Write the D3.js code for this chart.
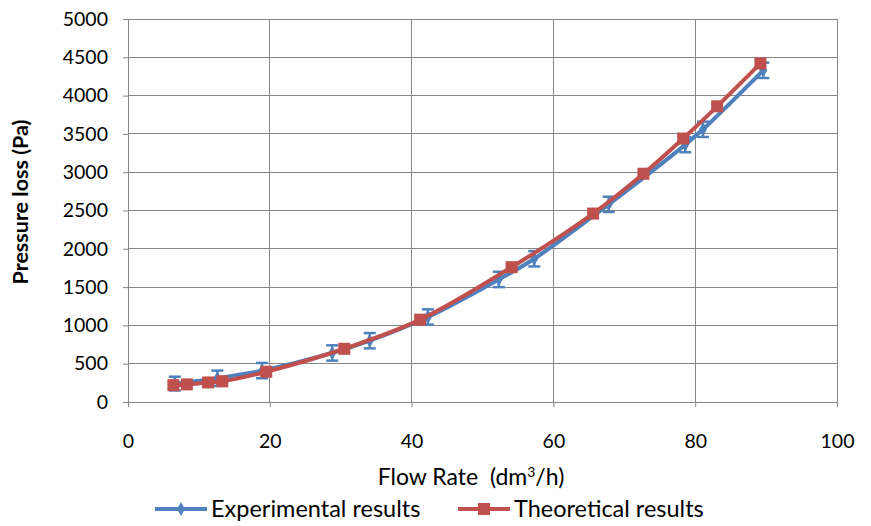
<!DOCTYPE html>
<html><head><meta charset="utf-8">
<script src="https://cdn.jsdelivr.net/npm/d3@7"></script>
<style>body{margin:0;background:#fff}svg{display:block}text{font-family:Lato,"Open Sans",sans-serif;fill:#000}</style>
</head><body><svg id="c" width="871" height="526"></svg>
<script>
const expX = [6.6, 12.6, 18.9, 28.8, 34.1, 42.3, 52.3, 57.3, 67.8, 78.6, 81.1, 89.6];
const expY = [240, 310, 410, 640, 800, 1110, 1600, 1870, 2580, 3360, 3560, 4330];
const expErr = [90, 100, 100, 100, 100, 100, 100, 100, 100, 100, 100, 100];
const theoX = [6.4, 8.3, 11.3, 13.3, 19.5, 30.5, 41.2, 54.1, 65.6, 72.7, 78.3, 83.1, 89.2];
const theoY = [220, 230, 255, 270, 395, 695, 1075, 1760, 2460, 2980, 3440, 3860, 4420];
const xTicks = [0, 20, 40, 60, 80, 100];
const yTicks = [0, 500, 1000, 1500, 2000, 2500, 3000, 3500, 4000, 4500, 5000];
const seriesNames = ["Experimental results", "Theoretical results"];
const colors = ["#4F81BD", "#C0504D"];

const svg = d3.select("#c");
const x = d3.scaleLinear().domain([0, 100]).range([128, 837]);
const y = d3.scaleLinear().domain([0, 5000]).range([402, 19]);

// gridlines
svg.append("g").selectAll("line.h").data(yTicks).join("line")
  .attr("x1", x(0)).attr("x2", x(100)).attr("y1", d => y(d)).attr("y2", d => y(d))
  .attr("stroke", "#868686").attr("stroke-width", 1).attr("shape-rendering", "crispEdges");
svg.append("g").selectAll("line.v").data(xTicks).join("line")
  .attr("x1", d => x(d)).attr("x2", d => x(d)).attr("y1", y(0)).attr("y2", y(5000))
  .attr("stroke", "#868686").attr("stroke-width", 1).attr("shape-rendering", "crispEdges");

// y axis
const ya = svg.append("g").attr("transform", `translate(${x(0)},0)`)
  .call(d3.axisLeft(y).tickValues(yTicks).tickSize(5).tickPadding(15).tickFormat(d3.format("d")));
ya.select(".domain").attr("stroke", "#868686");
ya.selectAll(".tick line").attr("stroke", "#868686");
ya.selectAll("text").style("font-size", "19.5px").style("font-family", "Lato").attr("fill", "#000");

// x axis
const xa = svg.append("g").attr("transform", `translate(0,${y(0)})`)
  .call(d3.axisBottom(x).tickValues(xTicks).tickSize(5).tickPadding(27).tickFormat(d3.format("d")));
xa.select(".domain").attr("stroke", "#868686");
xa.selectAll(".tick line").attr("stroke", "#868686");
xa.selectAll("text").style("font-size", "19.5px").style("font-family", "Lato").attr("fill", "#000");

// axis titles
svg.append("text").attr("transform", "translate(28,202) rotate(-90)")
  .attr("text-anchor", "middle").style("font-size", "21.5px").style("font-weight", "bold")
  .text("Pressure loss (Pa)");
const xt = svg.append("text").attr("x", 471).attr("y", 485).attr("text-anchor", "middle")
  .style("font-size", "23px").style("white-space", "pre");
xt.append("tspan").text("Flow Rate  (dm");
xt.append("tspan").attr("dy", -8).style("font-size", "14px").text("3");
xt.append("tspan").attr("dy", 8).text("/h)");

const line = d3.line().x(d => x(d[0])).y(d => y(d[1])).curve(d3.curveCatmullRom.alpha(0.5));
const expData = expX.map((v, i) => [v, expY[i], expErr[i]]);
const theoData = theoX.map((v, i) => [v, theoY[i]]);

// experimental
svg.append("path").datum(expData).attr("d", line).attr("fill", "none")
  .attr("stroke", colors[0]).attr("stroke-width", 4).attr("stroke-linejoin", "round");
const eb = svg.append("g").attr("stroke", colors[0]).attr("stroke-width", 2.5);
eb.selectAll("line.e").data(expData).join("line")
  .attr("x1", d => x(d[0])).attr("x2", d => x(d[0]))
  .attr("y1", d => y(d[1] - d[2])).attr("y2", d => y(d[1] + d[2]));
eb.selectAll("line.t").data(expData).join("line")
  .attr("x1", d => x(d[0]) - 6).attr("x2", d => x(d[0]) + 6)
  .attr("y1", d => y(d[1] + d[2])).attr("y2", d => y(d[1] + d[2]));
eb.selectAll("line.b").data(expData).join("line")
  .attr("x1", d => x(d[0]) - 6).attr("x2", d => x(d[0]) + 6)
  .attr("y1", d => y(d[1] - d[2])).attr("y2", d => y(d[1] - d[2]));
svg.append("g").selectAll("path").data(expData).join("path")
  .attr("transform", d => `translate(${x(d[0])},${y(d[1])})`)
  .attr("d", d3.symbol().type(d3.symbolDiamond).size(55)).attr("fill", colors[0]);

// theoretical
svg.append("path").datum(theoData).attr("d", line).attr("fill", "none")
  .attr("stroke", colors[1]).attr("stroke-width", 4).attr("stroke-linejoin", "round");
svg.append("g").selectAll("rect").data(theoData).join("rect")
  .attr("x", d => x(d[0]) - 6).attr("y", d => y(d[1]) - 6)
  .attr("width", 12).attr("height", 12).attr("fill", colors[1]);

// legend
const leg = [{x0: 155, name: seriesNames[0], c: colors[0], m: "d"}, {x0: 458, name: seriesNames[1], c: colors[1], m: "s"}];
const lg = svg.append("g");
leg.forEach(l => {
  lg.append("line").attr("x1", l.x0).attr("x2", l.x0 + 52).attr("y1", 509).attr("y2", 509)
    .attr("stroke", l.c).attr("stroke-width", 4);
  if (l.m === "d") {
    lg.append("path").attr("transform", `translate(${l.x0 + 26},509)`)
      .attr("d", d3.symbol().type(d3.symbolDiamond).size(55)).attr("fill", l.c);
  } else {
    lg.append("rect").attr("x", l.x0 + 26 - 6).attr("y", 509 - 6).attr("width", 12).attr("height", 12).attr("fill", l.c);
  }
  lg.append("text").attr("x", l.x0 + 56).attr("y", 517).style("font-size", "23.5px").text(l.name);
});
</script></body></html>
